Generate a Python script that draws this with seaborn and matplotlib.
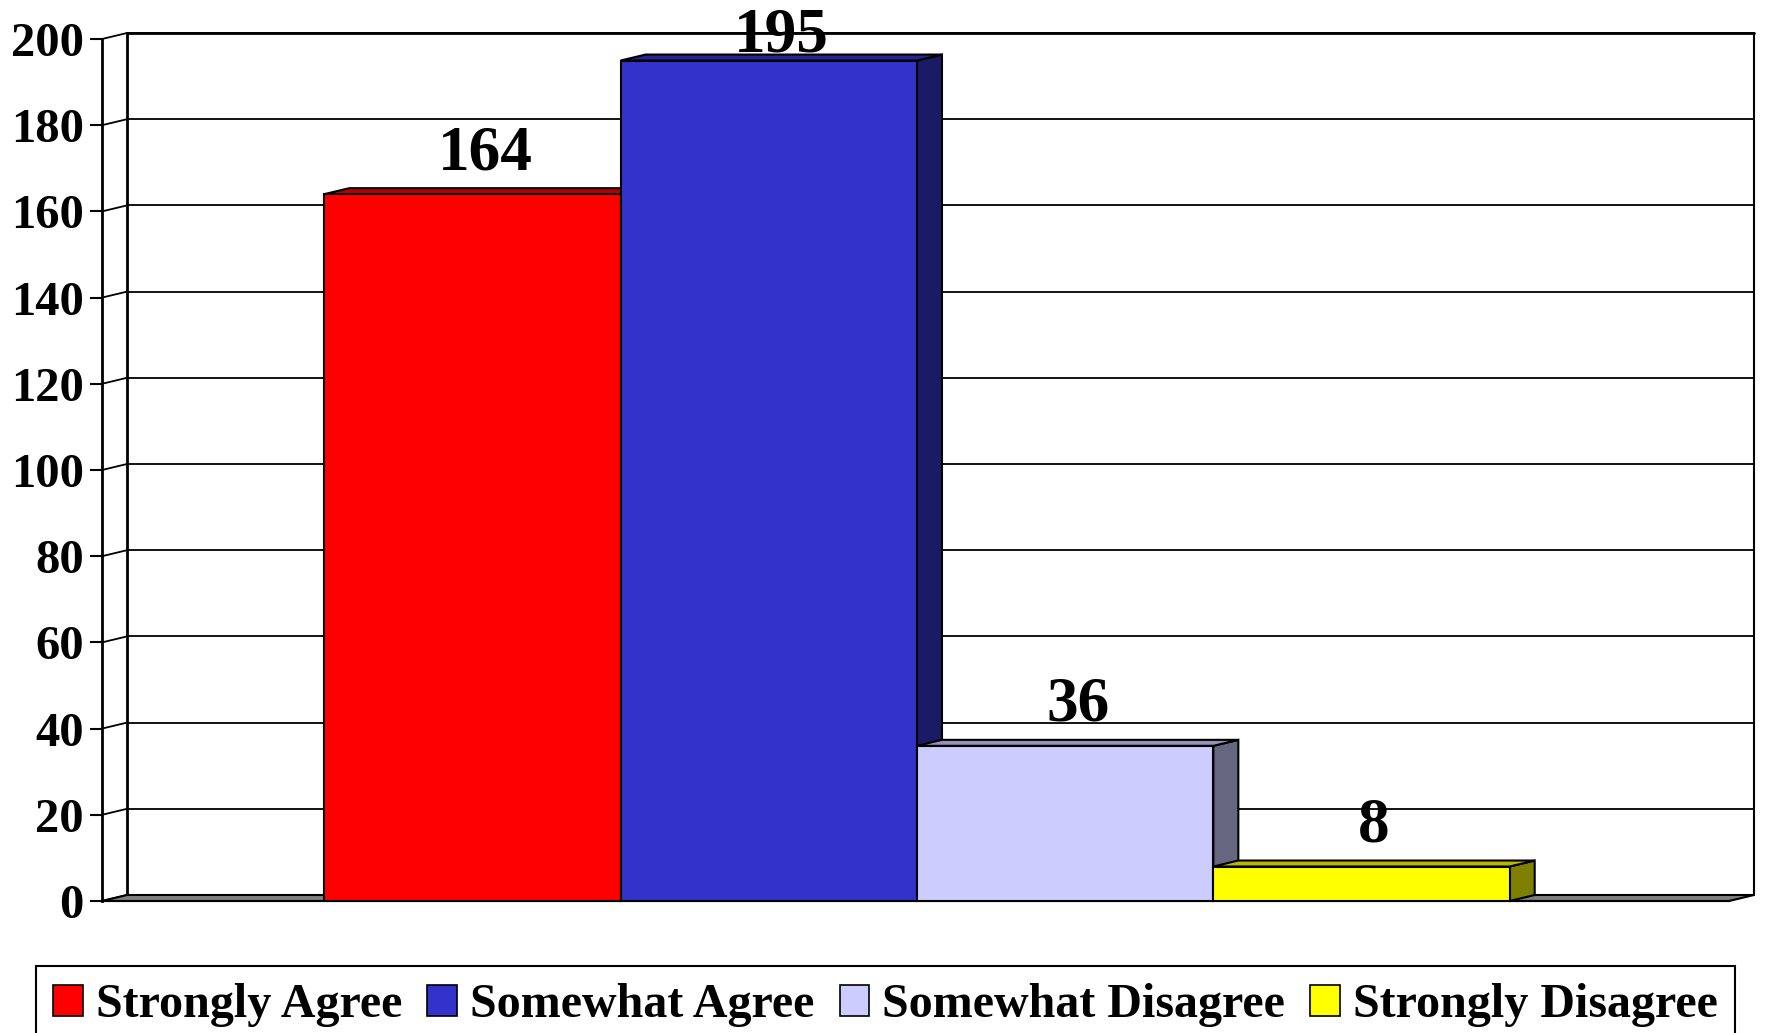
import matplotlib
matplotlib.use('Agg')
import matplotlib.pyplot as plt
import matplotlib.colors as mcolors
from matplotlib.patches import Polygon, Patch
import seaborn as sns
import pandas as pd

# data
responses = ['Strongly Agree', 'Somewhat Agree', 'Somewhat Disagree', 'Strongly Disagree']
counts = [164, 195, 36, 8]
bar_colors = ['#FF0000', '#3333CC', '#CCCCFF', '#FFFF00']
y_ticks = [0, 20, 40, 60, 80, 100, 120, 140, 160, 180, 200]


def shade(c, f):
    r, g, b = mcolors.to_rgb(c)
    return (r * f, g * f, b * f)


sns.set_style('white')
plt.rcParams['font.family'] = ['Liberation Serif', 'DejaVu Serif']
plt.rcParams['font.weight'] = 'bold'
plt.rcParams['text.color'] = 'black'
plt.rcParams['ytick.color'] = 'black'
plt.rcParams['ytick.labelcolor'] = 'black'

W, H = 1766, 1033
fig = plt.figure(figsize=(W / 100, H / 100), dpi=100)

# front plane of the plot, in pixels
ax_l, ax_r, ax_t, ax_b = 102, 1729, 39, 901
ax = fig.add_axes([ax_l / W, 1 - ax_b / H, (ax_r - ax_l) / W, (ax_b - ax_t) / H])
ax.patch.set_alpha(0)

df = pd.DataFrame({'response': responses, 'count': counts})
sns.barplot(data=df, x='response', y='count', hue='response', palette=bar_colors,
            width=1.0, edgecolor='black', linewidth=1.5, saturation=1,
            legend=False, ax=ax)
bars = sorted(ax.patches, key=lambda p: p.get_x())

x_lo, x_hi = -1.25, 4.24
ax.set_xlim(x_lo, x_hi)
ax.set_ylim(0, 200)

# depth of the 3d look, converted from pixels to data units
dx = 25 / ((ax_r - ax_l) / (x_hi - x_lo))
dy = 6 / ((ax_b - ax_t) / 200)

# back wall, side wall and gridlines
for t in y_ticks:
    ax.plot([x_lo + dx, x_hi + dx], [t + dy, t + dy], color='black', lw=1.3, zorder=1, clip_on=False)
    ax.plot([x_lo, x_lo + dx], [t, t + dy], color='black', lw=1.3, zorder=1, clip_on=False)
ax.plot([x_lo + dx, x_lo + dx], [dy, 200 + dy], color='black', lw=2, zorder=1, clip_on=False)
ax.plot([x_hi + dx, x_hi + dx], [dy, 200 + dy], color='black', lw=1.5, zorder=1, clip_on=False)
ax.plot([x_lo + dx, x_hi + dx], [200 + dy, 200 + dy], color='black', lw=2, zorder=1, clip_on=False)

# floor
floor = Polygon([(x_lo, 0), (x_hi, 0), (x_hi + dx, dy), (x_lo + dx, dy)],
                closed=True, facecolor='#808080', edgecolor='black', lw=1.5,
                zorder=2, clip_on=False)
ax.add_patch(floor)

# 3d sides and tops for the seaborn bars
for i, bar in enumerate(bars):
    x0 = bar.get_x()
    x1 = x0 + bar.get_width()
    v = bar.get_height()
    fc = bar.get_facecolor()
    top = Polygon([(x0, v), (x1, v), (x1 + dx, v + dy), (x0 + dx, v + dy)], closed=True,
                  facecolor=shade(fc, 0.72), edgecolor='black', lw=1.5, zorder=5 + 2 * i, clip_on=False)
    side = Polygon([(x1, 0), (x1, v), (x1 + dx, v + dy), (x1 + dx, dy)], closed=True,
                   facecolor=shade(fc, 0.5), edgecolor='black', lw=1.5, zorder=5 + 2 * i, clip_on=False)
    ax.add_patch(side)
    ax.add_patch(top)
    bar.set_zorder(6 + 2 * i)
    label_y = min(v + dy + 4.4, 197)
    ax.text(x0 + bar.get_width() / 2 + dx / 2, label_y, f'{int(v)}', ha='center', va='baseline',
            fontsize=45.5, fontweight='bold', color='black', zorder=30, clip_on=False)

# axes styling
ax.set_yticks(y_ticks)
ax.set_xticks([])
ax.set_xlabel('')
ax.set_ylabel('')
ax.tick_params(axis='y', left=True, length=9, width=1.5, pad=4, labelsize=35,
               color='black', labelcolor='black')
for lab in ax.get_yticklabels():
    lab.set_fontweight('bold')
for s in ['top', 'right']:
    ax.spines[s].set_visible(False)
ax.spines['left'].set_linewidth(2)
ax.spines['left'].set_color('black')
ax.spines['bottom'].set_linewidth(1.5)
ax.spines['bottom'].set_color('black')

# legend
handles = [Patch(facecolor=c, edgecolor='black', lw=1.2) for c in bar_colors]
leg = fig.legend(handles, responses, ncol=4, loc='upper left',
                 bbox_to_anchor=(36 / W, 1 - 966 / H), frameon=True, fancybox=False,
                 edgecolor='black', framealpha=1, borderpad=0.36, borderaxespad=0,
                 handlelength=0.62, handleheight=0.62, handletextpad=0.27, columnspacing=0.52,
                 labelcolor='black',
                 prop={'family': 'Liberation Serif', 'weight': 'bold', 'size': 34.6})
leg.get_frame().set_linewidth(1.5)

fig.savefig('out.png', dpi=100)
